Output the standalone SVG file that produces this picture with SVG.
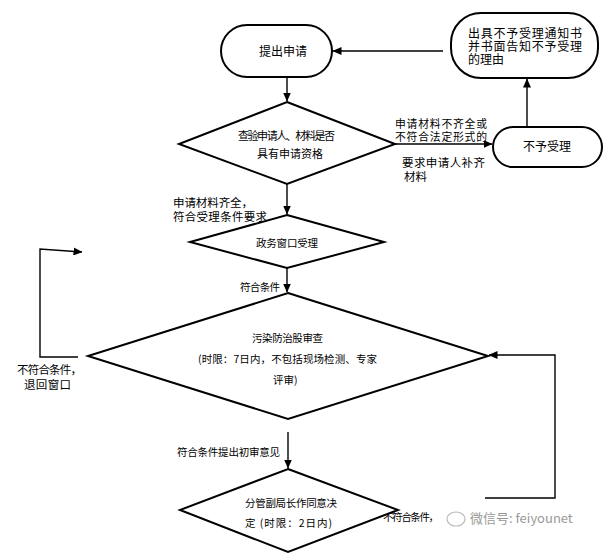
<svg xmlns="http://www.w3.org/2000/svg" width="612" height="555" viewBox="0 0 612 555">
<defs>
<marker id="ah" markerWidth="9" markerHeight="8" refX="8.5" refY="4" orient="auto" markerUnits="userSpaceOnUse">
<path d="M0,0 L9,4 L0,8 Z" fill="#000"/>
</marker>
<style>
.shape{fill:#fff;stroke:#000;stroke-width:2}
.conn{fill:none;stroke:#000;stroke-width:1.4}
.t{font-family:"Noto Sans CJK SC","Liberation Sans",sans-serif;fill:#000}
.c{text-anchor:middle}
.wm{font-family:"Noto Sans CJK SC","Liberation Sans",sans-serif;fill:#999}
</style>
</defs>
<rect width="612" height="555" fill="#fff"/>
<g id="connectors">
<line class="conn" x1="287" y1="77" x2="287" y2="101" marker-end="url(#ah)"/>
<line class="conn" x1="395" y1="144" x2="492" y2="144" marker-end="url(#ah)"/>
<line class="conn" x1="527" y1="127" x2="527" y2="79" marker-end="url(#ah)"/>
<line class="conn" x1="443" y1="51" x2="333" y2="51" marker-end="url(#ah)"/>
<line class="conn" x1="287" y1="184" x2="287" y2="214" marker-end="url(#ah)"/>
<line class="conn" x1="287" y1="268" x2="287" y2="292" marker-end="url(#ah)"/>
<line class="conn" x1="288" y1="432" x2="288" y2="468" marker-end="url(#ah)"/>
<polyline class="conn" points="78,357 40,357 40,249 82,252" marker-end="url(#ah)"/>
<polyline class="conn" points="485,498 555,498 555,355 489,355" marker-end="url(#ah)"/>
<text class="t" font-size="10.8"><tspan x="395" y="128" textLength="92">申请材料不齐全或</tspan><tspan x="395" y="141" textLength="92">不符合法定形式的</tspan></text>
<text class="t" font-size="11.5"><tspan x="402" y="167" textLength="83">要求申请人补齐</tspan><tspan x="404" y="181">材料</tspan></text>
<text class="t" font-size="11.5"><tspan x="173" y="207" textLength="80">申请材料齐全，</tspan><tspan x="173" y="221" textLength="94">符合受理条件要求</tspan></text>
<text class="t" x="240" y="291" font-size="10.5" textLength="40">符合条件</text>
<text class="t" font-size="11.5"><tspan x="17" y="374" textLength="65">不符合条件，</tspan><tspan x="24" y="389" textLength="47">退回窗口</tspan></text>
<text class="t" x="177" y="456" font-size="10.5" textLength="103">符合条件提出初审意见</text>
<text class="t" x="383" y="521" font-size="10.5" textLength="56">不符合条件，</text>
</g>
<g id="n-apply">
<rect class="shape" x="221" y="25" width="111" height="52" rx="26" ry="26"/>
<text class="t c" x="283" y="56" font-size="12">提出申请</text>
</g>
<g id="n-notice">
<rect class="shape" x="451" y="13" width="147" height="65" rx="30" ry="30"/>
<text class="t" font-size="12"><tspan x="468" y="38" textLength="114">出具不予受理通知书</tspan><tspan x="468" y="51" textLength="114">并书面告知不予受理</tspan><tspan x="468" y="64">的理由</tspan></text>
</g>
<g id="n-reject">
<rect class="shape" x="493" y="127" width="109" height="40" rx="20" ry="20"/>
<text class="t c" x="547" y="151" font-size="12">不予受理</text>
</g>
<g id="n-check">
<polygon class="shape" points="287,102 395,144 287,184 179,144"/>
<text class="t" font-size="11"><tspan x="238" y="140" textLength="97">查验申请人、材料是否</tspan><tspan x="257" y="158" textLength="66">具有申请资格</tspan></text>
</g>
<g id="n-window">
<polygon class="shape" points="287,215 384,242 287,268 190,242"/>
<text class="t" x="256" y="247" font-size="10.5" textLength="62">政务窗口受理</text>
</g>
<g id="n-review">
<polygon class="shape" points="288,293 488,356 288,419 88,356"/>
<text class="t" font-size="10.5"><tspan x="252" y="342" textLength="71">污染防治股审查</tspan><tspan x="198" y="363" textLength="179">(时限：7日内，不包括现场检测、专家</tspan><tspan x="273" y="384">评审)</tspan></text>
</g>
<g id="n-decide">
<polygon class="shape" points="288,469 398,510 288,552 180,510"/>
<text class="t" font-size="10.5"><tspan x="245" y="507" textLength="92">分管副局长作同意决</tspan><tspan x="245" y="527" textLength="87">定 (时限：2日内)</tspan></text>
</g>
<g id="watermark">
<ellipse cx="456" cy="519" rx="9" ry="7" fill="none" stroke="#bbb" stroke-width="1.2"/>
<text class="wm" x="470" y="523" font-size="13">微信号: feiyounet</text>
</g>
</svg>
